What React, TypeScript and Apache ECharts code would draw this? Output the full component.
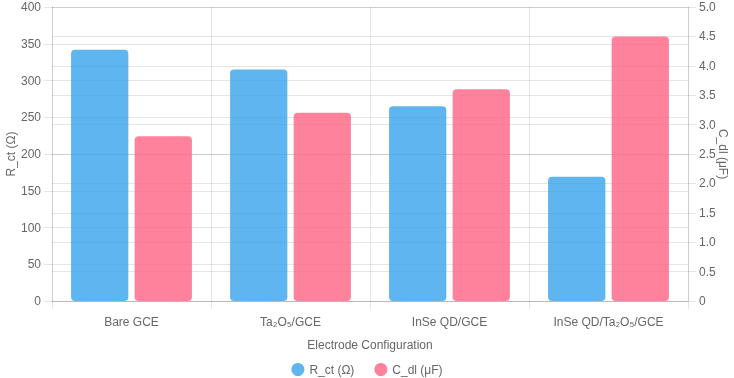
import React, { useEffect, useRef } from "react";
import * as echarts from "echarts";

const categories = ["Bare GCE", "Ta₂O₅/GCE", "InSe QD/GCE", "InSe QD/Ta₂O₅/GCE"];
const rctValues = [342, 315, 265, 169];
const cdlValues = [2.8, 3.2, 3.6, 4.5];
const seriesNames = ["R_ct (Ω)", "C_dl (μF)"];

const FONT = "Liberation Sans, Arial, Helvetica, sans-serif";
const GRID = "rgba(0,0,0,0.1)";
const TXT = "#666";

export default function App() {
  const ref = useRef<HTMLDivElement>(null);
  useEffect(() => {
    if (!ref.current) return;
    const chart = echarts.init(ref.current, undefined, { renderer: "svg" });
    chart.setOption({
      animation: false,
      textStyle: { fontFamily: FONT },
      grid: {
        left: 52,
        right: 46,
        top: 7,
        bottom: 77,
        containLabel: false,
        outerBoundsMode: "none",
      },
      legend: {
        top: 363,
        left: "center",
        padding: 0,
        icon: "circle",
        itemWidth: 13,
        itemHeight: 13,
        itemGap: 20,
        textStyle: { color: TXT, fontSize: 12, fontFamily: FONT },
        data: seriesNames,
      },
      xAxis: {
        type: "category",
        data: categories,
        name: "Electrode Configuration",
        nameLocation: "middle",
        nameGap: 38,
        nameTextStyle: { color: TXT, fontSize: 12, fontFamily: FONT },
        axisLine: { show: true, lineStyle: { color: GRID } },
        axisTick: { show: true, length: 8, lineStyle: { color: GRID } },
        axisLabel: { color: TXT, fontSize: 12, margin: 15, fontFamily: FONT },
        splitLine: { show: true, lineStyle: { color: GRID } },
      },
      yAxis: [
        {
          type: "value",
          min: 0,
          max: 400,
          interval: 50,
          position: "left",
          name: seriesNames[0],
          nameLocation: "middle",
          nameGap: 35,
          nameMoveOverlap: false,
          nameTextStyle: { color: TXT, fontSize: 12, fontFamily: FONT },
          axisLine: { show: true, lineStyle: { color: GRID } },
          axisTick: { show: true, length: 8, lineStyle: { color: GRID } },
          axisLabel: { color: TXT, fontSize: 12, margin: 11, fontFamily: FONT },
          splitLine: { show: true, lineStyle: { color: GRID } },
        },
        {
          type: "value",
          min: 0,
          max: 5,
          interval: 0.5,
          position: "right",
          name: seriesNames[1],
          nameLocation: "middle",
          nameRotate: -90,
          nameGap: 29,
          nameMoveOverlap: false,
          nameTextStyle: { color: TXT, fontSize: 12, fontFamily: FONT },
          axisLine: { show: true, lineStyle: { color: GRID } },
          axisTick: { show: true, length: 8, lineStyle: { color: GRID } },
          axisLabel: {
            color: TXT,
            fontSize: 12,
            margin: 11,
            fontFamily: FONT,
            formatter: (v: number) => (v === 0 ? "0" : v.toFixed(1)),
          },
          splitLine: { show: true, lineStyle: { color: GRID } },
        },
      ],
      series: [
        {
          name: seriesNames[0],
          type: "bar",
          yAxisIndex: 0,
          data: rctValues,
          barGap: "11%",
          barCategoryGap: "24%",
          itemStyle: {
            color: "rgba(54,162,235,0.8)",
            borderRadius: 4,
          },
        },
        {
          name: seriesNames[1],
          type: "bar",
          yAxisIndex: 1,
          data: cdlValues,
          barGap: "11%",
          barCategoryGap: "24%",
          itemStyle: {
            color: "rgba(255,99,132,0.8)",
            borderRadius: 4,
          },
        },
      ],
    });
    return () => chart.dispose();
  }, []);
  return (
    <div
      ref={ref}
      style={{ position: "fixed", left: 0, top: 0, width: 734, height: 378 }}
    />
  );
}
